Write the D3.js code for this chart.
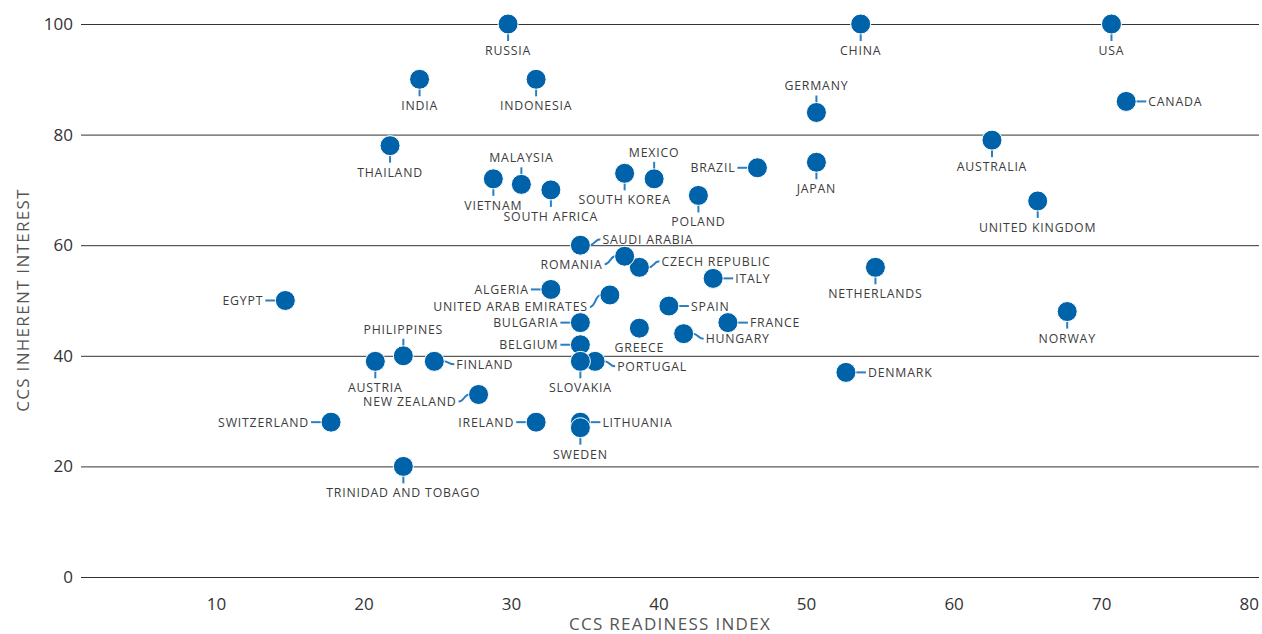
<!DOCTYPE html>
<html>
<head>
<meta charset="utf-8">
<title>CCS readiness vs inherent interest</title>
<script src="https://d3js.org/d3.v7.min.js"></script>
<style>
  body { margin: 0; background: #fff; }
  text { font-family: "Open Sans", sans-serif; }
</style>
</head>
<body>
<div id="chart"></div>
<script>
// data
const countries = ["RUSSIA", "CHINA", "USA", "INDIA", "INDONESIA", "THAILAND", "GERMANY", "CANADA",
  "AUSTRALIA", "JAPAN", "BRAZIL", "MEXICO", "SOUTH KOREA", "POLAND", "UNITED KINGDOM", "MALAYSIA",
  "VIETNAM", "SOUTH AFRICA", "SAUDI ARABIA", "CZECH REPUBLIC", "ROMANIA", "ITALY", "NETHERLANDS",
  "ALGERIA", "UNITED ARAB EMIRATES", "EGYPT", "SPAIN", "NORWAY", "BULGARIA", "GREECE", "FRANCE",
  "HUNGARY", "BELGIUM", "PHILIPPINES", "AUSTRIA", "FINLAND", "PORTUGAL", "SLOVAKIA", "DENMARK",
  "NEW ZEALAND", "SWITZERLAND", "IRELAND", "LITHUANIA", "SWEDEN", "TRINIDAD AND TOBAGO"];
const readiness = [29.8, 53.7, 70.7, 23.8, 31.7, 21.8, 50.7, 71.7,
  62.6, 50.7, 46.7, 39.7, 37.7, 42.7, 65.7, 30.7,
  28.8, 32.7, 34.7, 38.7, 37.7, 43.7, 54.7,
  32.7, 36.7, 14.7, 40.7, 67.7, 34.7, 38.7, 44.7,
  41.7, 34.7, 22.7, 20.8, 24.8, 35.7, 34.7, 52.7,
  27.8, 17.8, 31.7, 34.7, 34.7, 22.7];
const interest = [100, 100, 100, 90, 90, 78, 84, 86,
  79, 75, 74, 72, 73, 69, 68, 71,
  72, 70, 60, 56, 58, 54, 56,
  52, 51, 50, 49, 48, 46, 45, 46,
  44, 42, 40, 39, 39, 39, 39, 37,
  33, 28, 28, 28, 27, 20];
const xTicks = [10, 20, 30, 40, 50, 60, 70, 80];
const yTicks = [0, 20, 40, 60, 80, 100];

// where each label sits: b below, a above, r right, l left (+ vertical shift)
const labelSide = {
  "GERMANY": ["a"], "MEXICO": ["a"], "MALAYSIA": ["a"], "PHILIPPINES": ["a"],
  "CANADA": ["r"], "ITALY": ["r"], "SPAIN": ["r"], "FRANCE": ["r"], "DENMARK": ["r"], "LITHUANIA": ["r"],
  "SAUDI ARABIA": ["r", -6], "CZECH REPUBLIC": ["r", -6], "HUNGARY": ["r", 5], "FINLAND": ["r", 3], "PORTUGAL": ["r", 5],
  "BRAZIL": ["l"], "ALGERIA": ["l"], "EGYPT": ["l"], "BULGARIA": ["l"], "BELGIUM": ["l"], "SWITZERLAND": ["l"], "IRELAND": ["l"],
  "ROMANIA": ["l", 8], "UNITED ARAB EMIRATES": ["l", 12], "NEW ZEALAND": ["l", 7],
  "GREECE": ["b", -7]
};

const W = 1262, H = 634;
const svg = d3.select("#chart").append("svg")
  .attr("width", W).attr("height", H);

const x = d3.scaleLinear().domain([0.85, 80.7]).range([81, 1259]);
const y = d3.scaleLinear().domain([0, 100]).range([577, 24]);

// grid + y ticks
const yAxis = svg.append("g")
  .attr("transform", "translate(81,0)")
  .call(d3.axisLeft(y).tickValues(yTicks).tickSize(-(1259 - 81)).tickPadding(8));
yAxis.select(".domain").remove();
yAxis.selectAll("line").attr("stroke", "#333").attr("stroke-width", 1);
yAxis.selectAll("text").attr("font-size", 17).attr("fill", "#333").style("font-family", "'Open Sans', sans-serif");

const xAxis = svg.append("g")
  .attr("transform", "translate(0,598)")
  .call(d3.axisBottom(x).tickValues(xTicks).tickSize(0).tickPadding(0));
xAxis.select(".domain").remove();
xAxis.selectAll("text").attr("font-size", 17).attr("fill", "#333").style("font-family", "'Open Sans', sans-serif");

// axis titles
svg.append("text")
  .attr("transform", "translate(29,300) rotate(-90)")
  .attr("text-anchor", "middle")
  .attr("font-size", 17).attr("fill", "#555").attr("letter-spacing", 1.3)
  .text("CCS INHERENT INTEREST");
svg.append("text")
  .attr("x", 670).attr("y", 630)
  .attr("text-anchor", "middle")
  .attr("font-size", 17).attr("fill", "#555").attr("letter-spacing", 1.3)
  .text("CCS READINESS INDEX");

const pts = countries.map((c, i) => ({ name: c, rx: readiness[i], iy: interest[i] }));
const leadColor = "#2a7ec2", dotColor = "#0062a9";

const g = svg.append("g");
pts.forEach(d => {
  const cx = x(d.rx), cy = y(d.iy);
  const s = labelSide[d.name] || ["b"];
  const side = s[0], off = s[1] || 0;
  const pg = g.append("g");
  let path, tx, ty, anchor;
  if (side === "b") {
    path = `M${cx},${cy + 9}V${cy + 17 + off}`;
    tx = cx; ty = cy + 31 + off; anchor = "middle";
  } else if (side === "a") {
    path = `M${cx},${cy - 9}V${cy - 17}`;
    tx = cx; ty = cy - 22; anchor = "middle";
  } else if (side === "r") {
    path = `M${cx + 9},${cy}C${cx + 15},${cy} ${cx + 14},${cy + off} ${cx + 20},${cy + off}`;
    tx = cx + 22; ty = cy + off + 4.5; anchor = "start";
  } else {
    path = `M${cx - 9},${cy}C${cx - 15},${cy} ${cx - 14},${cy + off} ${cx - 20},${cy + off}`;
    tx = cx - 22; ty = cy + off + 4.5; anchor = "end";
  }
  pg.append("path").attr("d", path)
    .attr("fill", "none").attr("stroke", leadColor).attr("stroke-width", 2);
  pg.append("text")
    .attr("x", tx).attr("y", ty)
    .attr("text-anchor", anchor)
    .attr("font-size", 12.3).attr("fill", "#3c3c3c").attr("letter-spacing", 0.8)
    .text(d.name);
  pg.append("circle")
    .attr("cx", cx).attr("cy", cy).attr("r", 10)
    .attr("fill", dotColor).attr("stroke", "#fff").attr("stroke-width", 1);
});
</script>
</body>
</html>
